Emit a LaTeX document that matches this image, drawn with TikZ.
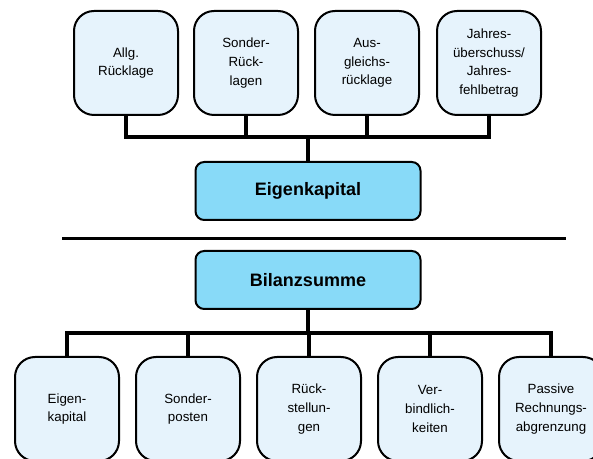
\documentclass[tikz,border=0pt]{standalone}
\usepackage{fontspec}
\setmainfont{Liberation Sans}
\usetikzlibrary{positioning}
\usepackage{xcolor}
\definecolor{lblue}{HTML}{E6F3FC}
\definecolor{mblue}{HTML}{88DAF8}
\tikzstyle{part}=[rectangle, rounded corners=15pt, draw=black, line width=1.5pt, fill=lblue, minimum width=78pt, minimum height=78pt, inner sep=2pt, align=center, font=\fontsize{10}{14}\selectfont]
\tikzstyle{total}=[rectangle, rounded corners=6.5pt, draw=black, line width=1.5pt, fill=mblue, minimum width=168.75pt, minimum height=43.5pt, font=\fontsize{13.5}{15}\selectfont\bfseries]
\tikzstyle{bus}=[line width=3pt]
\tikzstyle{rule}=[line width=2.25pt]

\begin{document}
\begin{tikzpicture}[x=0.75pt, y=-0.75pt]
    \clip (0,0) rectangle (593,459);

    % upper part: Eigenkapital
    \node (r1) [part] at (126,63) {Allg.\\Rücklage};
    \node (r2) [part] at (246,63) {Sonder-\\Rück-\\lagen};
    \node (r3) [part] at (367,63) {Aus-\\gleichs-\\rücklage};
    \node (r4) [part] at (489,63) {Jahres-\\überschuss/\\Jahres-\\fehlbetrag};
    \node (ek) [total] at (308,191) {Eigenkapital};
    \coordinate (jt) at (308,137);
    \draw[bus] (r1.south) -- (r1.south |- jt) -- (r4.south |- jt) -- (r4.south);
    \draw[bus] (r2.south) -- (r2.south |- jt);
    \draw[bus] (r3.south) -- (r3.south |- jt);
    \draw[bus] (jt) -- (ek.north);

    % separator
    \coordinate (sl) at (62,239);
    \coordinate (sr) at (566,239);
    \draw[rule] (sl) -- (sr);

    % lower part: Bilanzsumme
    \node (bs) [total] at (308,280) {Bilanzsumme};
    \node (p1) [part] at (67,409) {Eigen-\\kapital};
    \node (p2) [part] at (188,409) {Sonder-\\posten};
    \node (p3) [part] at (309,409) {Rück-\\stellun-\\gen};
    \node (p4) [part] at (430,409) {Ver-\\bindlich-\\keiten};
    \node (p5) [part] at (551,409) {Passive\\Rechnungs-\\abgrenzung};
    \coordinate (jb) at (308,333);
    \draw[bus] (p1.north) -- (p1.north |- jb) -- (p5.north |- jb) -- (p5.north);
    \draw[bus] (p2.north) -- (p2.north |- jb);
    \draw[bus] (p3.north) -- (p3.north |- jb);
    \draw[bus] (p4.north) -- (p4.north |- jb);
    \draw[bus] (bs.south) -- (jb);
\end{tikzpicture}
\end{document}
